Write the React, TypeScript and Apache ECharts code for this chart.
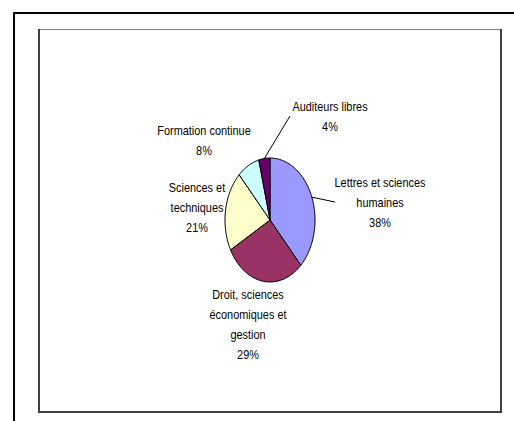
import React, { useEffect, useRef } from "react";
import * as echarts from "echarts";

const categories = [
  "Lettres et sciences humaines",
  "Droit, sciences économiques et gestion",
  "Sciences et techniques",
  "Formation continue",
  "Auditeurs libres",
];
const labelTexts = [
  "Lettres et sciences\nhumaines",
  "Droit, sciences\néconomiques et\ngestion",
  "Sciences et\ntechniques",
  "Formation continue",
  "Auditeurs libres",
];
const values = [38, 29, 21, 8, 4];
const colors = ["#9999FF", "#993366", "#FFFFCC", "#CCFFFF", "#660066"];

// label layout (text block centre relative to pie centre) and optional leader end
const labelLayout: { dx: number; dy: number; leader?: [number, number] }[] = [
  { dx: 110, dy: -17, leader: [65, -18] },
  { dx: -22, dy: 105 },
  { dx: -73, dy: -12 },
  { dx: -66, dy: -79 },
  { dx: 60, dy: -103, leader: [20, -104] },
];

const FONT = "'Liberation Sans', Arial, sans-serif";

export default function App() {
  const ref = useRef<HTMLDivElement>(null);
  useEffect(() => {
    if (!ref.current) return;
    const chart = echarts.init(ref.current, undefined, { renderer: "svg" });
    const total = values.reduce((a, b) => a + b, 0);
    const cx = 270;
    const cy = 220;
    const rx = 45;
    const ry = 62;
    const starts: number[] = [];
    let acc = 0;
    values.forEach((v) => {
      starts.push(acc);
      acc += v;
    });
    const pt = (frac: number, k = 1): [number, number] => {
      const t = frac * Math.PI * 2;
      return [cx + rx * k * Math.sin(t), cy - ry * k * Math.cos(t)];
    };
    chart.setOption({
      animation: false,
      backgroundColor: "#ffffff",
      graphic: [
        { type: "line", shape: { x1: 13, y1: 13, x2: 514, y2: 13 }, style: { stroke: "#000", lineWidth: 2 } },
        { type: "line", shape: { x1: 14, y1: 12, x2: 14, y2: 421 }, style: { stroke: "#000", lineWidth: 2 } },
        { type: "line", shape: { x1: 38, y1: 29.5, x2: 502, y2: 29.5 }, style: { stroke: "#808080", lineWidth: 1 } },
        { type: "line", shape: { x1: 39, y1: 29, x2: 39, y2: 413 }, style: { stroke: "#404040", lineWidth: 2 } },
        { type: "line", shape: { x1: 501, y1: 29, x2: 501, y2: 413 }, style: { stroke: "#404040", lineWidth: 2 } },
        { type: "line", shape: { x1: 38, y1: 412, x2: 502, y2: 412 }, style: { stroke: "#404040", lineWidth: 2 } },
      ],
      series: [
        {
          type: "custom",
          coordinateSystem: "none",
          data: values.map((v, i) => ({ name: categories[i], value: [i, v] })),
          renderItem: (params: any, api: any) => {
            const i = params.dataIndex;
            const v = api.value(1);
            const s = starts[i] / total;
            const e = (starts[i] + v) / total;
            const pts: [number, number][] = [[cx, cy]];
            const n = Math.max(4, Math.ceil((e - s) * 200));
            for (let k = 0; k <= n; k++) pts.push(pt(s + ((e - s) * k) / n));
            const mid = (s + e) / 2;
            const lay = labelLayout[i];
            const children: any[] = [
              {
                type: "polygon",
                shape: { points: pts },
                style: { fill: colors[i], stroke: "#000", lineWidth: 1, lineJoin: "round" },
              },
              {
                type: "text",
                x: cx + lay.dx,
                y: cy + lay.dy,
                scaleX: 0.84,
                style: {
                  text: labelTexts[i] + "\n" + Math.round((v / total) * 100) + "%",
                  fill: "#000",
                  fontSize: 13,
                  fontFamily: FONT,
                  lineHeight: 20,
                  align: "center",
                  verticalAlign: "middle",
                },
              },
            ];
            if (lay.leader) {
              const p0 = pt(mid);
              children.push({
                type: "polyline",
                shape: { points: [p0, [cx + lay.leader[0], cy + lay.leader[1]]] },
                style: { stroke: "#000", lineWidth: 1, fill: "none" },
              });
            }
            return { type: "group", children };
          },
        },
      ],
    });
    return () => chart.dispose();
  }, []);
  return (
    <div
      ref={ref}
      style={{ position: "fixed", left: 0, top: 0, width: 514, height: 421 }}
    />
  );
}
